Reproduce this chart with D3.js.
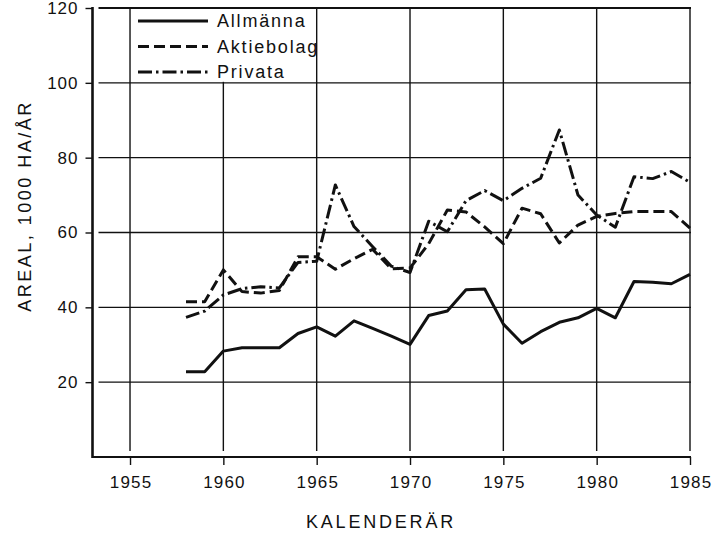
<!DOCTYPE html>
<html>
<head>
<meta charset="utf-8">
<script src="https://cdn.jsdelivr.net/npm/d3@7"></script>
<style>
  body { margin: 0; background: #fff; }
  text { font-family: "Liberation Sans", Arial, sans-serif; fill: #111; }
</style>
</head>
<body>
<div id="chart"></div>
<script>
// values (1000 ha per year)
var years = [1958, 1959, 1960, 1961, 1962, 1963, 1964, 1965, 1966, 1967,
             1968, 1969, 1970, 1971, 1972, 1973, 1974, 1975, 1976, 1977,
             1978, 1979, 1980, 1981, 1982, 1983, 1984, 1985]

var allmanna = [22.8, 22.8, 28.3, 29.2, 29.2, 29.2, 33.0, 34.8, 32.3, 36.4,
                34.4, 32.3, 30.1, 37.8, 39.0, 44.7, 44.9, 35.5, 30.4, 33.5,
                36.0, 37.2, 39.7, 37.2, 46.9, 46.7, 46.3, 48.8]

var aktiebolag = [41.5, 41.5, 50.0, 44.2, 43.8, 44.5, 53.5, 53.5, 50.2, 53.0,
                  55.5, 50.3, 50.5, 57.0, 66.0, 65.5, 61.5, 57.0, 66.5, 65.0,
                  57.2, 62.0, 64.3, 65.1, 65.6, 65.6, 65.6, 61.2]

var privata = [37.3, 39.0, 43.3, 45.0, 45.5, 45.2, 52.0, 52.3, 72.7, 61.6,
               56.2, 51.0, 49.3, 63.0, 60.2, 68.5, 71.2, 68.5, 71.8, 74.5,
               87.4, 70.0, 64.7, 61.4, 74.9, 74.4, 76.3, 73.4]

var series_names = ["Allmänna", "Aktiebolag", "Privata"]
var x_ticks = [1955, 1960, 1965, 1970, 1975, 1980, 1985]
var y_ticks = [20, 40, 60, 80, 100, 120]

var x_label = "KALENDERÄR"
var y_label = "AREAL, 1000 HA/ÅR"

var width = 726, height = 535
var plot = {left: 92.5, right: 690, top: 8, bottom: 457}
var grid_gap = 6
var dashes = ["none", "11,5", "14,4,2.5,4"]

var svg = d3.select("#chart")
  .append("svg")
    .attr("width", width)
    .attr("height", height)

var xScale = d3.scaleLinear()
    .domain([1952.99, 1985])
    .range([plot.left, plot.right])

var yScale = d3.scaleLinear()
    .domain([0, 120])
    .range([plot.bottom, plot.top])

var g = svg.append("g")

// grid (120 is the top border)
g.selectAll(".hgrid")
  .data(y_ticks)
  .enter()
  .append("line")
    .attr("class", "hgrid")
    .attr("x1", plot.left + grid_gap)
    .attr("x2", xScale(1985) + 1)
    .attr("y1", d => yScale(d))
    .attr("y2", d => yScale(d))
    .attr("stroke", "#111")
    .attr("stroke-width", d => d == 120 ? 1.8 : 1.4)

g.selectAll(".vgrid")
  .data(x_ticks)
  .enter()
  .append("line")
    .attr("class", "vgrid")
    .attr("x1", d => xScale(d))
    .attr("x2", d => xScale(d))
    .attr("y1", yScale(120))
    .attr("y2", plot.bottom - grid_gap)
    .attr("stroke", "#111")
    .attr("stroke-width", 1.4)

// legend sits in a white box between the 1955 and 1965 lines
g.append("rect")
  .attr("x", xScale(1955) + 1)
  .attr("y", yScale(120) + 1)
  .attr("width", xScale(1965) - xScale(1955) - 2)
  .attr("height", yScale(100) - yScale(120) - 2)
  .attr("fill", "#fff")

// axes
var y_axis = g.append("g")
  .attr("transform", "translate(" + plot.left + ",0)")
  .call(d3.axisLeft(yScale).tickValues(y_ticks).tickSize(7).tickPadding(7))
y_axis.select(".domain").remove()
y_axis.selectAll("line").attr("stroke", "#111").attr("stroke-width", 1.4)
y_axis.selectAll("text")
  .attr("font-size", 17)
  .attr("font-family", null)
  .style("letter-spacing", "1px")

var x_axis = g.append("g")
  .attr("transform", "translate(0," + plot.bottom + ")")
  .call(d3.axisBottom(xScale).tickValues(x_ticks).tickFormat(d3.format("d")).tickSize(8).tickPadding(11))
x_axis.select(".domain").remove()
x_axis.selectAll("line").attr("stroke", "#111").attr("stroke-width", 1.4)
x_axis.selectAll("text")
  .attr("font-size", 17)
  .attr("font-family", null)
  .attr("dx", "0.6px")
  .style("letter-spacing", "1.2px")

g.append("line")
  .attr("x1", plot.left)
  .attr("x2", plot.left)
  .attr("y1", plot.top - 1)
  .attr("y2", plot.bottom + 1)
  .attr("stroke", "#111")
  .attr("stroke-width", 2.6)

g.append("line")
  .attr("x1", plot.left)
  .attr("x2", xScale(1985) + 1)
  .attr("y1", plot.bottom)
  .attr("y2", plot.bottom)
  .attr("stroke", "#111")
  .attr("stroke-width", 2.2)

// labels
g.append("text")
  .attr("x", 381)
  .attr("y", 528)
  .attr("text-anchor", "middle")
  .attr("font-size", 18)
  .style("letter-spacing", "2.8px")
  .text(x_label)

g.append("text")
  .attr("transform", "translate(31," + 206 + ")rotate(-90)")
  .attr("text-anchor", "middle")
  .attr("font-size", 18)
  .style("letter-spacing", "2.5px")
  .text(y_label)

// series
var all_series = [allmanna, aktiebolag, privata]

var line = d3.line()
  .x((d, i) => xScale(years[i]))
  .y(d => yScale(d))

g.selectAll(".series")
  .data(all_series)
  .enter()
  .append("path")
    .attr("class", "series")
    .attr("d", line)
    .attr("fill", "none")
    .attr("stroke", "#111")
    .attr("stroke-width", 3)
    .attr("stroke-linejoin", "round")
    .attr("stroke-dasharray", (d, i) => dashes[i])

// legend
var legend = g.append("g")
  .selectAll("g")
  .data(series_names)
  .enter()
  .append("g")
  .attr("transform", (d, i) => "translate(138," + (21 + i * 25.5) + ")")

legend.append("line")
  .attr("x1", 0)
  .attr("x2", 70)
  .attr("stroke", "#111")
  .attr("stroke-width", 3)
  .attr("stroke-dasharray", (d, i) => dashes[i])

legend.append("text")
  .attr("x", 79)
  .attr("y", 6)
  .attr("font-size", 18)
  .style("letter-spacing", "1.8px")
  .text(d => d)
</script>
</body>
</html>
